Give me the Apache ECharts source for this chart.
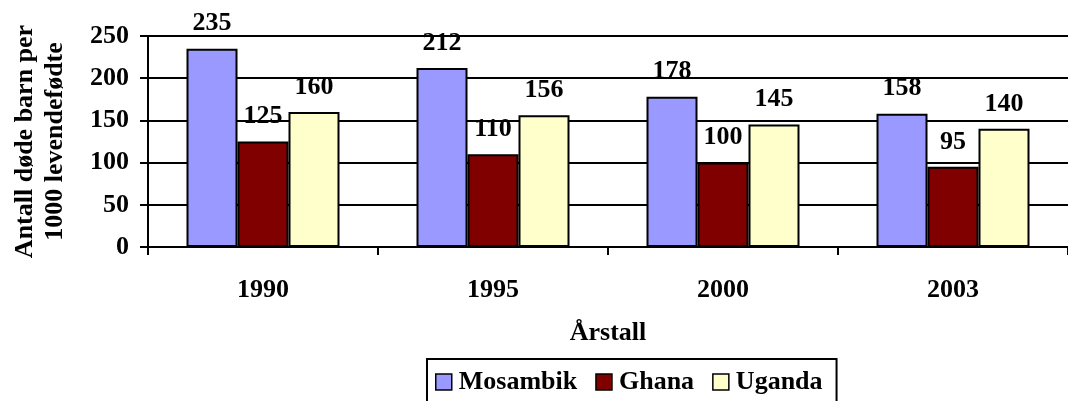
<!DOCTYPE html>
<html>
<head>
<meta charset="utf-8">
<script src="https://cdn.jsdelivr.net/npm/echarts@6/dist/echarts.min.js"></script>
<style>
html,body{margin:0;padding:0;background:#fff;}
#chart{width:1068px;height:401px;}
</style>
</head>
<body>
<div id="chart"></div>
<script>
var years=['1990','1995','2000','2003'];
var mosambik=[235,212,178,158];
var ghana=[125,110,100,95];
var uganda=[160,156,145,140];
var yTicks=[0,50,100,150,200,250];

var font='"Liberation Serif","Times New Roman",serif';
var myChart=echarts.init(document.getElementById('chart'));

function bar(name,data,color){
    return {
        name:name,
        type:'bar',
        barWidth:51,
        barGap:'0%',
        data:data,
        itemStyle:{color:color,borderColor:'#000',borderWidth:2},
        label:{//数值
            show:true,
            position:'top',
            distance:12,
            fontFamily:font,
            fontWeight:'bold',
            fontSize:26,
            color:'#000'
        }
    };
}

var option={
    animation:false,
    grid:{left:148,right:-8,top:36,bottom:154},
    legend:{
        left:427,
        top:359,
        icon:'rect',
        itemWidth:16,
        itemHeight:16,
        itemGap:18,
        padding:[10,14,14,8],
        borderColor:'#000',
        borderWidth:2,
        itemStyle:{borderColor:'#000',borderWidth:1.5},
        textStyle:{fontFamily:font,fontWeight:'bold',fontSize:26,color:'#000',padding:[0,0,0,2]},
        data:['Mosambik','Ghana','Uganda']
    },
    xAxis:{
        type:'category',
        data:years,
        name:'Årstall',
        nameLocation:'middle',
        nameGap:73,
        nameTextStyle:{fontFamily:font,fontWeight:'bold',fontSize:26,color:'#000'},
        axisLine:{lineStyle:{color:'#000',width:2}},
        axisTick:{show:true,length:8,lineStyle:{color:'#000',width:2}},
        axisLabel:{margin:30,fontFamily:font,fontWeight:'bold',fontSize:26,color:'#000'}
    },
    yAxis:{
        type:'value',
        min:yTicks[0],
        max:yTicks[yTicks.length-1],
        interval:50,
        name:'Antall døde barn per\n1000 levendefødte',
        nameLocation:'middle',
        nameRotate:90,
        nameGap:78,
        nameTextStyle:{fontFamily:font,fontWeight:'bold',fontSize:26,color:'#000',lineHeight:30},
        axisLine:{show:true,lineStyle:{color:'#000',width:2}},
        axisTick:{show:true,length:8,lineStyle:{color:'#000',width:2}},
        axisLabel:{margin:19,fontFamily:font,fontWeight:'bold',fontSize:26,color:'#000'},
        splitLine:{show:true,lineStyle:{color:'#000',width:2}}
    },
    series:[
        bar('Mosambik',mosambik,'#9999FF'),
        bar('Ghana',ghana,'#800000'),
        bar('Uganda',uganda,'#FFFFCC')
    ]
};
myChart.setOption(option);
</script>
</body>
</html>
